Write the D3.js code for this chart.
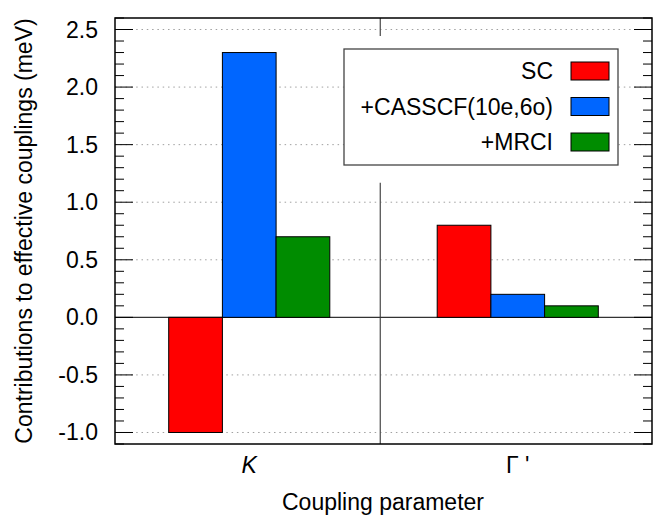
<!DOCTYPE html>
<html>
<head>
<meta charset="utf-8">
<script src="https://cdn.jsdelivr.net/npm/d3@7"></script>
<style>
  body { margin: 0; background: #fff; }
  text { font-family: "Liberation Sans", Arial, sans-serif; fill: #000; }
</style>
</head>
<body>
<div class="chart"></div>
<script>
// data
var categories = ["K", "\u0393 '"];
var seriesNames = ["SC", "+CASSCF(10e,6o)", "+MRCI"];
var seriesColors = ["#ff0000", "#0066ff", "#008c00"];
var scValues = [-1.0, 0.8];
var casscfValues = [2.3, 0.2];
var mrciValues = [0.7, 0.1];
var yTicks = [-1.0, -0.5, 0.0, 0.5, 1.0, 1.5, 2.0, 2.5];

// setup
var width = 653, height = 515;
var margin = {top: 18, right: 1, bottom: 71, left: 115},
    w = width - margin.left - margin.right,
    h = height - margin.top - margin.bottom;

// histogram layout: 3 bars per group + gap of 2
var groupWidth = 5;
var xScale = d3.scaleLinear().domain([-2.5, (categories.length - 1) * groupWidth + 2.5]).range([0, w]);
var yScale = d3.scaleLinear().domain([-1.1, 2.6]).range([h, 0]);
var sepPos = 2.44;     // separator between groups (x units)
var sepTop = 1.17;     // separator ends below the key

var svg = d3.select(".chart")
    .append("svg")
    .attr("width", width)
    .attr("height", height)
    .append("g")
    .attr("transform", "translate(" + margin.left + "," + margin.top + ")");

// grid lines
svg.selectAll(".grid")
    .data(yTicks.filter(function(d) { return d !== 0; }))
    .enter().append("line")
    .attr("class", "grid")
    .attr("x1", 0).attr("x2", w)
    .attr("y1", function(d) { return yScale(d); })
    .attr("y2", function(d) { return yScale(d); })
    .style("stroke", "#a0a0a0")
    .style("stroke-width", 1)
    .style("stroke-dasharray", "1.5,3.8");

// separator
svg.append("line")
    .attr("x1", xScale(sepPos)).attr("x2", xScale(sepPos))
    .attr("y1", yScale(-1.1)).attr("y2", yScale(sepTop))
    .style("stroke", "#555")
    .style("stroke-width", 1.3);
svg.append("line")
    .attr("x1", xScale(sepPos)).attr("x2", xScale(sepPos))
    .attr("y1", 0).attr("y2", 18)
    .style("stroke", "#555")
    .style("stroke-width", 1.3);

// zero line
svg.append("line")
    .attr("x1", 0).attr("x2", w)
    .attr("y1", yScale(0)).attr("y2", yScale(0))
    .style("stroke", "#333")
    .style("stroke-width", 1.2);

// bars
var allSeries = [scValues, casscfValues, mrciValues];
allSeries.forEach(function(vals, s) {
  svg.selectAll(".bar" + s)
      .data(vals)
      .enter().append("rect")
      .attr("class", "bar" + s)
      .attr("x", function(d, i) { return xScale(i * groupWidth + s - 1.5); })
      .attr("width", xScale(1) - xScale(0))
      .attr("y", function(d) { return yScale(Math.max(0, d)); })
      .attr("height", function(d) { return Math.abs(yScale(d) - yScale(0)); })
      .style("fill", seriesColors[s])
      .style("stroke", "#000")
      .style("stroke-width", 1);
});

// y axis ticks (left and mirrored right)
var minorTicks = d3.range(-11, 27).map(function(d) { return d / 10; });
function drawTicks(x0, dir) {
  svg.selectAll(null)
      .data(minorTicks)
      .enter().append("line")
      .attr("x1", x0)
      .attr("x2", function(d) {
        var major = Math.abs(Math.round(d * 10) % 5) === 0;
        return x0 + dir * (major ? 18 : 9);
      })
      .attr("y1", function(d) { return yScale(d); })
      .attr("y2", function(d) { return yScale(d); })
      .style("stroke", "#000")
      .style("stroke-width", 1);
}
drawTicks(0, 1);
drawTicks(w, -1);

// y tick labels (plain hyphen for negatives)
svg.selectAll(".ylabel")
    .data(yTicks)
    .enter().append("text")
    .attr("class", "ylabel")
    .attr("x", -17)
    .attr("y", function(d) { return yScale(d) + 8; })
    .attr("font-size", 23)
    .style("text-anchor", "end")
    .text(function(d) { return d.toFixed(1); });

// x category labels
svg.selectAll(".xlabel")
    .data(categories)
    .enter().append("text")
    .attr("class", "xlabel")
    .attr("x", function(d, i) { return xScale(i * groupWidth); })
    .attr("y", h + 29)
    .attr("font-size", 23)
    .style("font-style", function(d, i) { return i === 0 ? "italic" : "normal"; })
    .style("text-anchor", "middle")
    .text(function(d) { return d; });

// frame
svg.append("rect")
    .attr("width", w).attr("height", h)
    .style("fill", "none")
    .style("stroke", "#000")
    .style("stroke-width", 1.5);

// axis titles
svg.append("text")
    .attr("x", 383 - margin.left)
    .attr("y", h + 66)
    .attr("font-size", 23)
    .style("text-anchor", "middle")
    .text("Coupling parameter");

svg.append("text")
    .attr("transform", "translate(" + (32 - margin.left) + "," + (h / 2) + ") rotate(-90)")
    .attr("font-size", 23)
    .style("text-anchor", "middle")
    .text("Contributions to effective couplings (meV)");

// legend
var legendG = svg.append("g")
    .attr("transform", "translate(" + (344 - margin.left) + "," + (49 - margin.top) + ")");
legendG.append("rect")
    .attr("width", 274).attr("height", 116)
    .style("fill", "#fff")
    .style("stroke", "#444")
    .style("stroke-width", 1.3);

var legend = legendG.selectAll(".legend")
    .data(seriesNames)
    .enter().append("g")
    .attr("class", "legend")
    .attr("transform", function(d, i) { return "translate(0," + (22 + i * 35.5) + ")"; });

legend.append("rect")
    .attr("x", 227)
    .attr("y", -9)
    .attr("width", 38)
    .attr("height", 18)
    .style("fill", function(d, i) { return seriesColors[i]; })
    .style("stroke", "#000")
    .style("stroke-width", 1);

legend.append("text")
    .attr("x", 209)
    .attr("y", 8)
    .attr("font-size", 23)
    .style("text-anchor", "end")
    .text(function(d) { return d; });
</script>
</body>
</html>
